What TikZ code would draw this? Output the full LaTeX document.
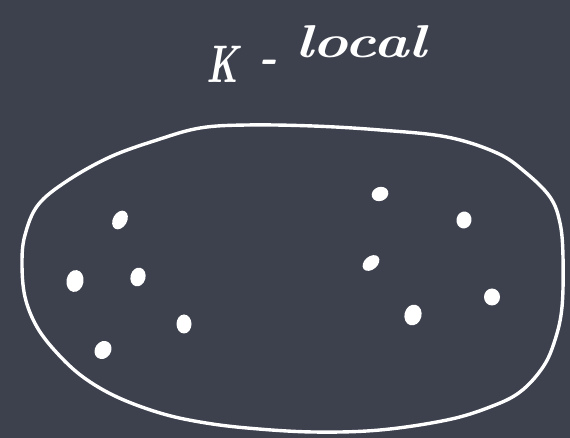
\documentclass[tikz,border=0pt]{standalone}
\usepackage{graphicx}
\begin{document}
\begin{tikzpicture}[x=1pt,y=1pt,
  chalk/.style={draw=white, line width=3.4pt, line join=round},
  dot/.style={fill=white, draw=none},
  lbl/.style={text=white, inner sep=0pt, font=\bfseries\itshape\fontsize{46}{52}\selectfont}]
\definecolor{board}{RGB}{61,65,78}
\fill[board] (0,0) rectangle (570,438);
\useasboundingbox (0,0) rectangle (570,438);
\node[lbl, anchor=base west] (title) at (206,355)
  {\makebox[52pt][l]{\scalebox{0.78}[1.15]{K}}\makebox[37pt][l]{\raisebox{10pt}{-}}\raisebox{25pt}{\scalebox{1.3}[1]{local}}};
\draw[chalk, yscale=-1, yshift=-438pt] plot[smooth cycle, tension=0.6] coordinates {
  (200,128) (247,125) (313,126) (380,130) (447,137) (497,153) (525,172) (550,197) (560,223)
  (563,257) (562,307) (555,340) (543,367) (520,392) (490,407) (447,420) (380,430)
  (313,432) (247,428) (200,422) (160,413) (117,397) (83,377) (57,353) (37,327)
  (25,297) (22,263) (25,235) (38,205) (67,181) (110,157) (157,140)};
\foreach \n/\x/\y/\a/\b/\r in {a/120/220/7/10/-30, b/75/281/8.5/11/-10, c/138/277/7.5/9.5/-15,
    d/184/324/7.5/9.5/0, e/103/350/8/9.5/-35, f/380/194/8.5/7/20, g/464/220/7.5/8.5/-10,
    h/371/263/6.5/9.5/-50, i/413/315/8.5/10.5/-15, j/492/297/8/8.5/0}{
  \fill[dot, rotate around={\r:(\x,438-\y)}] (\x,438-\y) ellipse [x radius=\a, y radius=\b];
}
\end{tikzpicture}
\end{document}
